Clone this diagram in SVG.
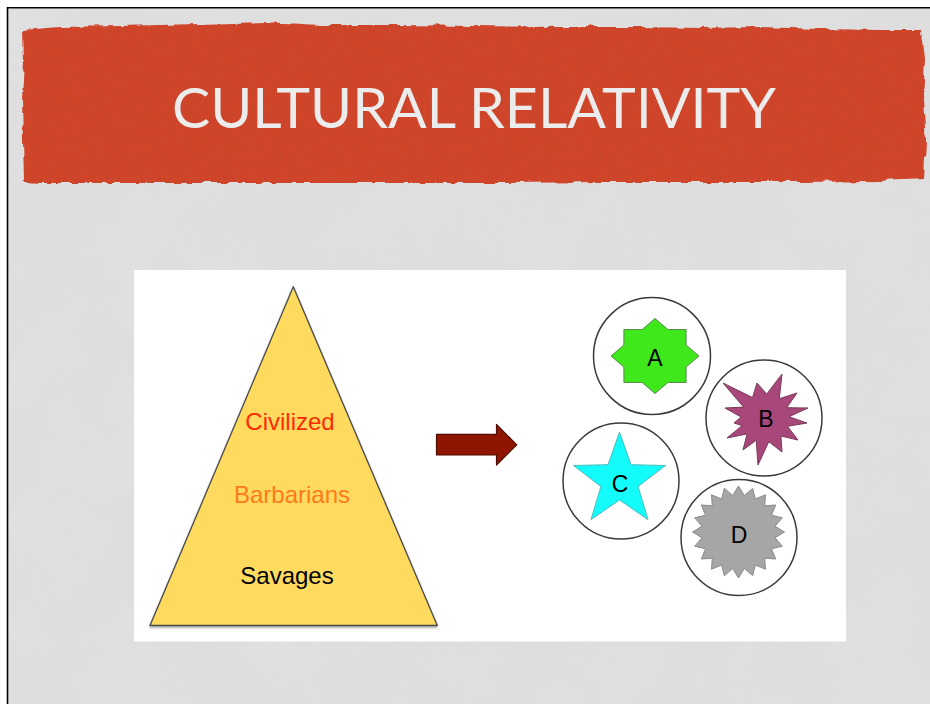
<svg xmlns="http://www.w3.org/2000/svg" width="930" height="704" viewBox="0 0 930 704">
  <style>
    .title { font-family: "Lato", "Open Sans", "Liberation Sans", sans-serif; font-size: 56px; fill: #ececec; }
    .tier { font-family: "Liberation Sans", Arial, sans-serif; font-size: 24px; text-anchor: middle; }
    .tag { font-family: "Liberation Sans", Arial, sans-serif; font-size: 23px; text-anchor: middle; fill: #000; }
    .ring { fill: #fff; stroke: #3a3a3a; stroke-width: 1.5; }
  </style>
  <defs>
    <!-- torn-paper edge and grain for the title band -->
    <filter id="rough" x="-3%" y="-15%" width="106%" height="130%">
      <feTurbulence type="fractalNoise" baseFrequency="0.07" numOctaves="3" seed="3" result="n"/>
      <feDisplacementMap in="SourceGraphic" in2="n" scale="6" xChannelSelector="R" yChannelSelector="G" result="d"/>
      <feTurbulence type="fractalNoise" baseFrequency="0.8" numOctaves="2" seed="5" result="g"/>
      <feColorMatrix in="g" type="matrix" values="0 0 0 0 0.35  0 0 0 0 0.08  0 0 0 0 0.05  0.5 0 0 0 -0.2" result="ga"/>
      <feComposite in="ga" in2="d" operator="in" result="gi"/>
      <feMerge><feMergeNode in="d"/><feMergeNode in="gi"/></feMerge>
    </filter>
    <!-- crumpled paper shading -->
    <filter id="paper" x="0" y="0" width="100%" height="100%">
      <feTurbulence type="fractalNoise" baseFrequency="0.012" numOctaves="4" seed="11" result="t"/>
      <feColorMatrix in="t" type="matrix" values="0 0 0 0 1  0 0 0 0 1  0 0 0 0 1  0.6 0 0 0 -0.22"/>
    </filter>
    <filter id="shadow" x="-10%" y="-10%" width="120%" height="120%">
      <feDropShadow dx="0" dy="1.5" stdDeviation="1" flood-color="#000" flood-opacity="0.35"/>
    </filter>
  </defs>

  <!-- page and slide frame -->
  <rect width="930" height="704" fill="#fff"/>
  <rect x="8" y="8.5" width="922" height="695.5" fill="#dedede"/>
  <rect x="8" y="8.5" width="922" height="695.5" fill="#fff" filter="url(#paper)" opacity="0.25"/>
  <path d="M7.5,704 V7.8 H930" fill="none" stroke="#000" stroke-width="1.6"/>

  <!-- title band -->
  <g id="title">
    <path filter="url(#rough)" fill="#d1442c" d="M23,30 L60,27 L120,26 L200,24 L265,22 L320,25 L400,25 L470,26 L560,27 L640,27 L700,28 L760,27 L820,29 L880,30 L922,30 L925,60 L923,100 L926,140 L924,179 L880,181 L800,182 L700,182 L600,182 L500,183 L400,183 L300,183 L200,183 L100,183 L40,183 L24,182 L23,140 L22,100 L24,60 Z"/>
    <text class="title" x="172" y="128" textLength="604" lengthAdjust="spacingAndGlyphs">CULTURAL RELATIVITY</text>
  </g>

  <!-- picture panel -->
  <rect x="134" y="270" width="712" height="371.5" fill="#fff"/>

  <g id="pyramid">
    <polygon points="293.3,286.7 437.3,625.5 150,625.5" fill="#fedb5e" stroke="#4a4a4a" stroke-width="1.3" stroke-linejoin="round" filter="url(#shadow)"/>
    <text class="tier" x="290" y="430" fill="#ff2a00">Civilized</text>
    <text class="tier" x="292" y="503" fill="#ff7a1a">Barbarians</text>
    <text class="tier" x="287" y="584" fill="#000">Savages</text>
  </g>

  <g id="connectors">
    <polygon points="436.5,434.3 496.5,434.3 496.5,424.3 516.7,444.8 496.5,465 496.5,455 436.5,455" fill="#8e1500" stroke="#4e0a00" stroke-width="1.2" stroke-linejoin="round"/>
  </g>

  <g id="node-a">
    <circle class="ring" cx="652" cy="356" r="58.5"/>
    <polygon points="655,318.5 667.9,329.5 686.1,329.5 686.1,345 699,356 686.1,367 686.1,382.5 667.9,382.5 655,393.5 642.1,382.5 623.9,382.5 623.9,367 611,356 623.9,345 623.9,329.5 642.1,329.5" fill="#3ee81a" stroke="#5a8a50" stroke-width="1"/>
    <text class="tag" x="655" y="366">A</text>
  </g>

  <g id="node-b">
    <circle class="ring" cx="764" cy="418" r="58"/>
    <polygon points="723,383 752.5,397.5 757,383 766.7,394.1 782,374 779.3,398.7 797,393 786.7,407.7 808,408 789,416.7 807,423 787.5,426.3 798,440 780.9,436 782,452 768.8,441.7 758,465 756.2,440.3 743,450 747.1,433.9 727,438 742.2,425.6 734,423 741,417 725,408 743.6,407.1" fill="#a8477a" stroke="#7a3a5a" stroke-width="1"/>
    <text class="tag" x="766" y="426.5">B</text>
  </g>

  <g id="node-c">
    <circle class="ring" cx="621" cy="481" r="58"/>
    <polygon points="619.5,432.1 631,464.7 665.5,465.5 638.1,486.5 648,519.6 619.5,500 591,519.6 600.9,486.5 573.5,465.5 608,464.7" fill="#14fbfb" stroke="#4cbcbc" stroke-width="1"/>
    <text class="tag" x="620" y="491.5">C</text>
  </g>

  <g id="node-d">
    <circle class="ring" cx="739" cy="537.5" r="58"/>
    <polygon fill="#a6a6a6" stroke="#8a8a8a" stroke-width="1" points="738.5,486 744.3,495.5 752.7,488.3 755.3,499 765.5,494.8 764.7,505.8 775.7,505 771.5,515.2 782.3,517.8 775,526.2 784.5,532 775,537.8 782.3,546.2 771.5,548.8 775.7,559 764.7,558.2 765.5,569.2 755.3,565 752.7,575.7 744.3,568.5 738.5,578 732.7,568.5 724.3,575.7 721.7,565 711.5,569.2 712.3,558.2 701.3,559 705.5,548.8 694.7,546.2 702,537.8 692.5,532 702,526.2 694.7,517.8 705.5,515.2 701.3,505 712.3,505.8 711.5,494.8 721.7,499 724.3,488.3 732.7,495.5"/>
    <text class="tag" x="739" y="542.5">D</text>
  </g>
</svg>
